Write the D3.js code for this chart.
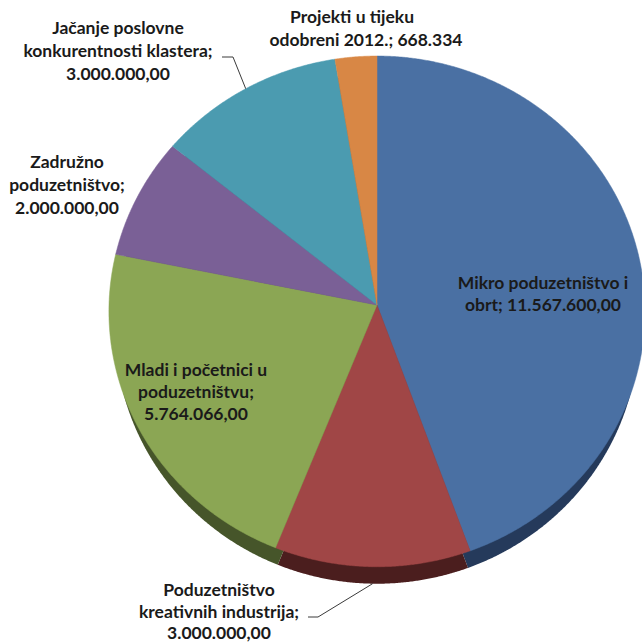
<!DOCTYPE html>
<html>
<head>
<meta charset="utf-8">
<script src="https://cdn.jsdelivr.net/npm/d3@7"></script>
<style>
  html, body { margin: 0; padding: 0; background: #fff; overflow: hidden; }
  text { font-family: Lato, "Open Sans", sans-serif; font-weight: 700; font-size: 17.5px; fill: #1a1a1a; }
</style>
</head>
<body>
<svg id="chart" width="642" height="643"></svg>
<script>
// data, clockwise from 12 o'clock
const categories = [
  "Mikro poduzetništvo i obrt",
  "Poduzetništvo kreativnih industrija",
  "Mladi i početnici u poduzetništvu",
  "Zadružno poduzetništvo",
  "Jačanje poslovne konkurentnosti klastera",
  "Projekti u tijeku odobreni 2012."
]
const values = [11567600, 3000000, 5764066, 2000000, 3000000, 668334]
const valueLabels = ["11.567.600,00", "3.000.000,00", "5.764.066,00", "2.000.000,00", "3.000.000,00", "668.334"]
const labelLines = [
  ["Mikro poduzetništvo i", "obrt; 11.567.600,00"],
  ["Poduzetništvo", "kreativnih industrija;", "3.000.000,00"],
  ["Mladi i početnici  u", "poduzetništvu;", "5.764.066,00"],
  ["Zadružno", "poduzetništvo;", "2.000.000,00"],
  ["Jačanje  poslovne", "konkurentnosti klastera;", "3.000.000,00"],
  ["Projekti u tijeku", "odobreni 2012.; 668.334"]
]

const topColors = ["#4a70a3", "#a04646", "#8ba654", "#7a6096", "#4b9bb0", "#d88745"]
const sideColors = ["#253a5b", "#4b1e1e", "#46552a", "#3d3050", "#264e59", "#6c4322"]

// label placement: centre x (per line if xs), first line y, line step; optional leader elbow
const labelLayout = [
  { x: 543, y: 283, step: 22 },
  { x: 219, y: 590, step: 21.5, elbow: [[308, 617], [318, 617]], side: true },
  { x: 196, y: 370, step: 22 },
  { x: 67, y: 162, step: 23 },
  { x: 118, y: 28, step: 23, elbow: [[222, 57], [233, 57]] },
  { xs: [352, 366], y: 17, step: 23 }
]

const svg = d3.select('#chart')
const cx = 377, cy = 305, A = 268, B = 255.2, k = 0.025, depth = 18

// tilted disc with a touch of perspective
const makeProj = (ox, oy, a, b) => (ang, r) => {
  const u = Math.sin(ang) * r, v = -Math.cos(ang) * r
  const f = 1 / (1 - k * v)
  return [ox + a * u * f, oy + b * v * f]
}
const proj = makeProj(cx, cy, A, B)
const projSide = makeProj(cx, cy + depth, A - 6, B - 1)

const pie = d3.pie().sort(null).value(d => d)
const arcs = pie(values)

const slicePoints = (d, p) => {
  const pts = [p(0, 0)]
  const n = Math.max(2, Math.ceil((d.endAngle - d.startAngle) / 0.005))
  for (let i = 0; i <= n; i++) {
    pts.push(p(d.startAngle + (d.endAngle - d.startAngle) * i / n, 1))
  }
  return pts
}
const line = d3.line().curve(d3.curveLinearClosed)

// side (lower disc)
svg.append('g')
  .selectAll('path')
  .data(arcs)
  .enter().append('path')
    .attr('d', d => line(slicePoints(d, projSide)))
    .attr('fill', (d, i) => sideColors[i])

// top faces
svg.append('g')
  .selectAll('path')
  .data(arcs)
  .enter().append('path')
    .attr('d', d => line(slicePoints(d, proj)))
    .attr('fill', (d, i) => topColors[i])
    .attr('stroke', (d, i) => topColors[i])
    .attr('stroke-width', 0.5)

// leader lines
arcs.forEach((d, i) => {
  const lay = labelLayout[i]
  if (!lay.elbow) return
  const mid = (d.startAngle + d.endAngle) / 2
  const p = (lay.side ? projSide : proj)(mid, 1)
  svg.append('path')
    .attr('d', d3.line()([...lay.elbow, p]))
    .attr('fill', 'none')
    .attr('stroke', '#3a3a3a')
    .attr('stroke-width', 1)
})

// labels
const labels = svg.append('g')
labelLines.forEach((lines, i) => {
  const lay = labelLayout[i]
  const t = labels.append('text').attr('text-anchor', 'middle')
  lines.forEach((s, j) => {
    t.append('tspan')
      .attr('x', lay.xs ? lay.xs[j] : lay.x)
      .attr('y', lay.y + j * lay.step)
      .attr('dy', '0.35em')
      .text(s)
  })
})
</script>
</body>
</html>
